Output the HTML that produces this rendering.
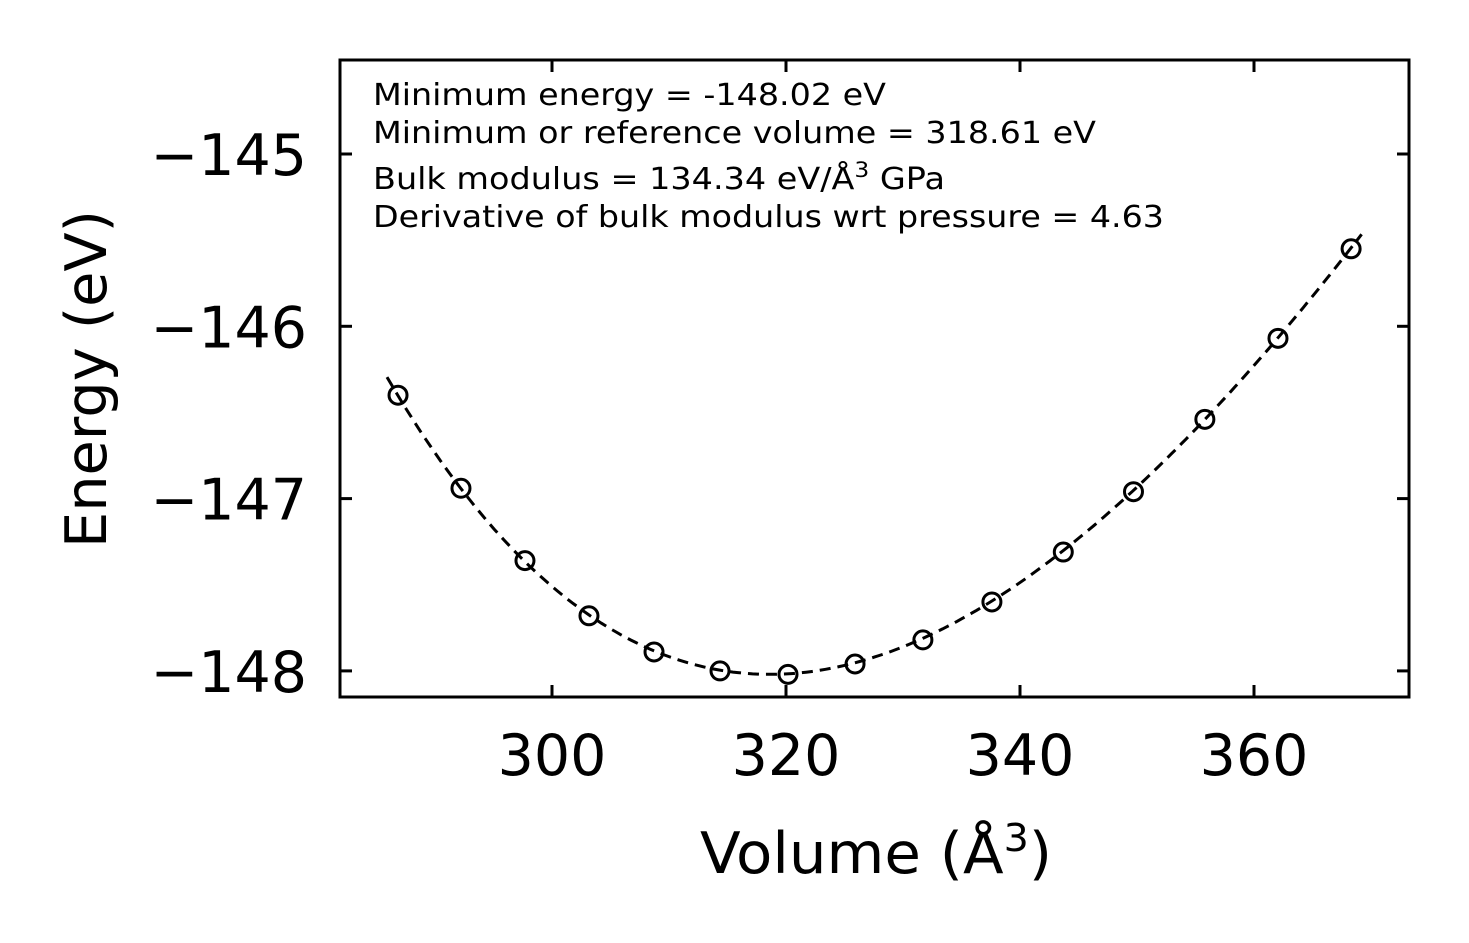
<!DOCTYPE html>
<html><head><meta charset="utf-8"><style>
html,body{margin:0;padding:0;background:#fff}
svg{display:block}
text{font-family:"DejaVu Sans","Liberation Sans",sans-serif;fill:#000}
</style></head><body>
<svg id="chart" width="1469" height="943" viewBox="0 0 1469 943" xmlns="http://www.w3.org/2000/svg">
<rect x="340" y="60" width="1069" height="637" fill="none" stroke="#000" stroke-width="3"/>
<g id="ticks"></g>
<g id="series"></g>
<text x="876" y="873" font-size="57" text-anchor="middle" textLength="352" lengthAdjust="spacingAndGlyphs">Volume (Å<tspan dy="-22" font-size="38">3</tspan><tspan dy="22">)</tspan></text>
<text transform="translate(106,379) rotate(-90)" font-size="57" text-anchor="middle" textLength="338" lengthAdjust="spacingAndGlyphs">Energy (eV)</text>
<g font-size="30">
<text x="373" y="105" textLength="513" lengthAdjust="spacingAndGlyphs">Minimum energy = -148.02 eV</text>
<text x="373" y="143" textLength="723" lengthAdjust="spacingAndGlyphs">Minimum or reference volume = 318.61 eV</text>
<text x="373" y="189" textLength="572" lengthAdjust="spacingAndGlyphs">Bulk modulus = 134.34 eV/Å<tspan dy="-12" font-size="21">3</tspan><tspan dy="12"> GPa</tspan></text>
<text x="373" y="227" textLength="791" lengthAdjust="spacingAndGlyphs">Derivative of bulk modulus wrt pressure = 4.63</text>
</g>
</svg>
<script>
const volumes=[286.84,292.22,297.69,303.16,308.72,314.36,320.17,325.9,331.7,337.6,343.7,349.7,355.8,362.05,368.3];
const energies=[-146.40,-146.94,-147.36,-147.68,-147.89,-148.00,-148.02,-147.96,-147.82,-147.60,-147.31,-146.96,-146.54,-146.07,-145.55];
const xTicks=[300,320,340,360];
const yTicks=[-145,-146,-147,-148];
const fitParams=[-148.02,318.61,134.34,4.63];
const fitRange=[285.9,369.2];

const NS="http://www.w3.org/2000/svg";
const X=v=>552+(v-300)*11.7;
const Y=e=>154+(-145-e)*172.3;
const L=340,R=1409,T=60,B=697,TL=12;
const tg=document.getElementById('ticks'), sg=document.getElementById('series');
function mk(tag,attrs,parent){const el=document.createElementNS(NS,tag);for(const k in attrs)el.setAttribute(k,attrs[k]);parent.appendChild(el);return el;}
xTicks.forEach(t=>{
  const x=X(t);
  const a=mk('line',{x1:x,x2:x,y1:B,y2:B-TL,stroke:'#000','stroke-width':3},tg);
  
  
  const b=mk('line',{x1:x,x2:x,y1:T,y2:T+TL,stroke:'#000','stroke-width':3},tg);
  
  
  const l=mk('text',{x:x,y:B+78,'font-size':57,'text-anchor':'middle'},tg);
  l.textContent=t;
  
  
});
yTicks.forEach(t=>{
  const y=Y(t);
  const a=mk('line',{x1:L,x2:L+TL,y1:y,y2:y,stroke:'#000','stroke-width':3},tg);
  
  
  const b=mk('line',{x1:R,x2:R-TL,y1:y,y2:y,stroke:'#000','stroke-width':3},tg);
  
  
  const l=mk('text',{x:L-33,y:y+21,'font-size':57,'text-anchor':'end'},tg);
  l.textContent='\u2212'+Math.abs(t);
  
  
});
const [E0,V0,Bg,Bp]=fitParams;const Bv=Bg/160.2177;
function bm(V){const eta=Math.pow(V0/V,2/3);const d=eta-1;return E0+9*V0*Bv/16*(d*d*d*Bp+d*d*(6-4*eta));}
let pts=[];
for(let i=0;i<=200;i++){const v=fitRange[0]+(fitRange[1]-fitRange[0])*i/200;pts.push(X(v).toFixed(1)+','+Y(bm(v)).toFixed(1));}
const fit=mk('polyline',{points:pts.join(' '),fill:'none',stroke:'#000','stroke-width':3,'stroke-dasharray':'11,7'},sg);


volumes.forEach((v,i)=>{
  const c=mk('circle',{cx:X(v),cy:Y(energies[i]),r:9,fill:'none',stroke:'#000','stroke-width':3},sg);
  
  
});
</script>
</body></html>
